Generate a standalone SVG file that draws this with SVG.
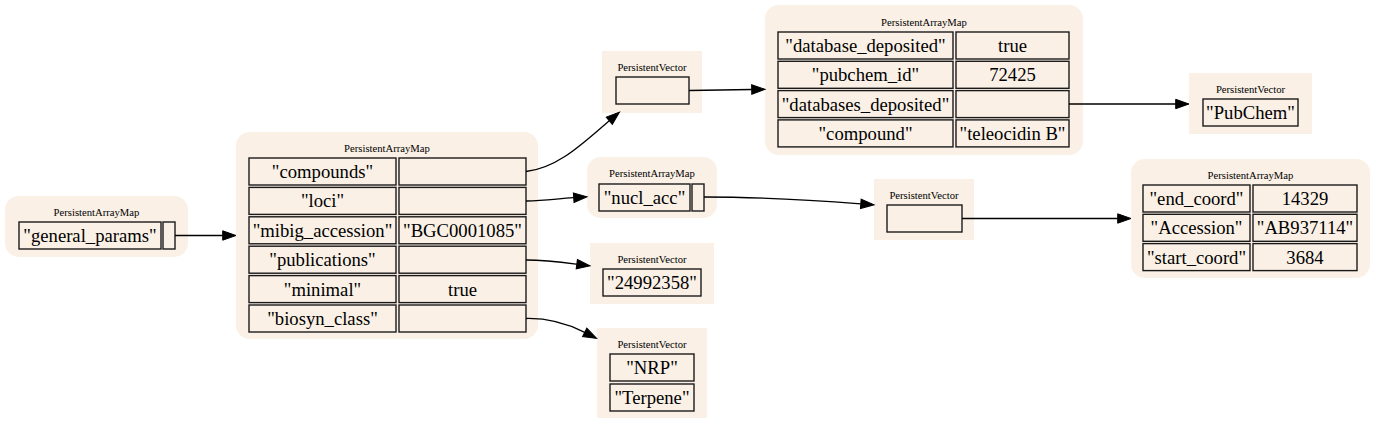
<svg xmlns="http://www.w3.org/2000/svg" width="1376" height="424" viewBox="0 0 1376 424">
<defs>
<style>
.bg{fill:#faf0e6;stroke:none}
.c{fill:none;stroke:#1a1a1a;stroke-width:1.4}
.t{font-family:"Liberation Serif","Times New Roman",serif;font-size:18.67px;fill:#000;text-anchor:middle}
.h{font-family:"Liberation Serif","Times New Roman",serif;font-size:10.67px;fill:#000;text-anchor:middle}
.e{fill:none;stroke:#000;stroke-width:1.3;marker-end:url(#ah)}
</style>
<marker id="ah" markerUnits="userSpaceOnUse" markerWidth="14" markerHeight="10" refX="0" refY="4.7" orient="auto" overflow="visible">
<path d="M0,0 L13.3,4.7 L0,9.4 Z" fill="#000" stroke="#000" stroke-width="1"/>
</marker>
</defs>
<rect width="1376" height="424" fill="#fff"/>

<g id="n1">
<rect class="bg" x="5" y="196" width="183" height="61" rx="14"/>
<text class="h" x="96.5" y="215.5">PersistentArrayMap</text>
<rect class="c" x="19" y="222" width="142" height="27"/>
<text class="t" x="90" y="242">"general_params"</text>
<rect class="c" x="163" y="222" width="12" height="27"/>
</g>

<g id="n2">
<rect class="bg" x="236" y="132" width="302" height="207" rx="14"/>
<text class="h" x="387" y="151.5">PersistentArrayMap</text>
<rect class="c" x="249" y="158" width="147" height="27"/>
<rect class="c" x="399" y="158" width="127" height="27"/>
<text class="t" x="322.5" y="178">"compounds"</text>
<rect class="c" x="249" y="187.4" width="147" height="27"/>
<rect class="c" x="399" y="187.4" width="127" height="27"/>
<text class="t" x="322.5" y="207.4">"loci"</text>
<rect class="c" x="249" y="216.8" width="147" height="27"/>
<rect class="c" x="399" y="216.8" width="127" height="27"/>
<text class="t" x="322.5" y="236.8">"mibig_accession"</text>
<text class="t" x="462.5" y="236.8">"BGC0001085"</text>
<rect class="c" x="249" y="246.2" width="147" height="27"/>
<rect class="c" x="399" y="246.2" width="127" height="27"/>
<text class="t" x="322.5" y="266.2">"publications"</text>
<rect class="c" x="249" y="275.6" width="147" height="27"/>
<rect class="c" x="399" y="275.6" width="127" height="27"/>
<text class="t" x="322.5" y="295.6">"minimal"</text>
<text class="t" x="462.5" y="295.6">true</text>
<rect class="c" x="249" y="305" width="147" height="27"/>
<rect class="c" x="399" y="305" width="127" height="27"/>
<text class="t" x="322.5" y="325">"biosyn_class"</text>
</g>

<g id="n3">
<rect class="bg" x="602" y="51" width="100" height="62"/>
<text class="h" x="652" y="70.5">PersistentVector</text>
<rect class="c" x="616" y="77" width="73" height="27"/>
</g>

<g id="n4">
<rect class="bg" x="765" y="5" width="318" height="150" rx="14"/>
<text class="h" x="924" y="25.5">PersistentArrayMap</text>
<rect class="c" x="778" y="32" width="175" height="27"/>
<rect class="c" x="956" y="32" width="113" height="27"/>
<text class="t" x="865.5" y="52">"database_deposited"</text>
<text class="t" x="1012.5" y="52">true</text>
<rect class="c" x="778" y="61.3" width="175" height="27"/>
<rect class="c" x="956" y="61.3" width="113" height="27"/>
<text class="t" x="865.5" y="81.3">"pubchem_id"</text>
<text class="t" x="1012.5" y="81.3">72425</text>
<rect class="c" x="778" y="90.6" width="175" height="27"/>
<rect class="c" x="956" y="90.6" width="113" height="27"/>
<text class="t" x="865.5" y="110.6">"databases_deposited"</text>
<rect class="c" x="778" y="119.9" width="175" height="27"/>
<rect class="c" x="956" y="119.9" width="113" height="27"/>
<text class="t" x="865.5" y="139.9">"compound"</text>
<text class="t" x="1012.5" y="139.9">"teleocidin B"</text>
</g>

<g id="n5">
<rect class="bg" x="1189" y="73" width="123" height="61"/>
<text class="h" x="1250.5" y="92.5">PersistentVector</text>
<rect class="c" x="1203" y="99" width="95" height="27"/>
<text class="t" x="1250.5" y="119">"PubChem"</text>
</g>

<g id="n6">
<rect class="bg" x="587" y="157" width="130" height="61" rx="14"/>
<text class="h" x="652" y="177">PersistentArrayMap</text>
<rect class="c" x="599" y="184" width="91" height="27"/>
<text class="t" x="644.5" y="204">"nucl_acc"</text>
<rect class="c" x="692" y="184" width="12" height="27"/>
</g>

<g id="n7">
<rect class="bg" x="874" y="179" width="100" height="61"/>
<text class="h" x="924" y="198.5">PersistentVector</text>
<rect class="c" x="887" y="205" width="75" height="27"/>
</g>

<g id="n8">
<rect class="bg" x="1131" y="159" width="239" height="119" rx="14"/>
<text class="h" x="1250.5" y="178.5">PersistentArrayMap</text>
<rect class="c" x="1143" y="185" width="107" height="27"/>
<rect class="c" x="1253" y="185" width="104" height="27"/>
<text class="t" x="1196.5" y="205">"end_coord"</text>
<text class="t" x="1305" y="205">14329</text>
<rect class="c" x="1143" y="214.3" width="107" height="27"/>
<rect class="c" x="1253" y="214.3" width="104" height="27"/>
<text class="t" x="1196.5" y="234.3">"Accession"</text>
<text class="t" x="1305" y="234.3">"AB937114"</text>
<rect class="c" x="1143" y="243.6" width="107" height="27"/>
<rect class="c" x="1253" y="243.6" width="104" height="27"/>
<text class="t" x="1196.5" y="263.6">"start_coord"</text>
<text class="t" x="1305" y="263.6">3684</text>
</g>

<g id="n9">
<rect class="bg" x="590" y="243" width="124" height="61"/>
<text class="h" x="652" y="262.5">PersistentVector</text>
<rect class="c" x="603" y="269" width="98" height="27"/>
<text class="t" x="652" y="289">"24992358"</text>
</g>

<g id="n10">
<rect class="bg" x="597" y="328" width="110" height="90"/>
<text class="h" x="652" y="347.5">PersistentVector</text>
<rect class="c" x="610" y="354" width="84" height="27"/>
<text class="t" x="652" y="374">"NRP"</text>
<rect class="c" x="610" y="384" width="84" height="27"/>
<text class="t" x="652" y="404">"Terpene"</text>
</g>

<g id="edges">
<path class="e" d="M175,235.5 L222.7,235.5"/>
<path class="e" d="M526,171.5 C558,168 583,143 609.3,120.7"/>
<path class="e" d="M689,90.5 L751.7,89.5"/>
<path class="e" d="M1069,104 L1175.7,104"/>
<path class="e" d="M526,201 C545,201 555,199 573.7,197.7"/>
<path class="e" d="M704,197 C760,197 810,200 860.8,203.8"/>
<path class="e" d="M962,218.5 L1117.7,218.5"/>
<path class="e" d="M526,260 C545,260 560,262 576.8,264.2"/>
<path class="e" d="M526,318.5 C550,318 570,325 584.7,332.4"/>
</g>
</svg>
